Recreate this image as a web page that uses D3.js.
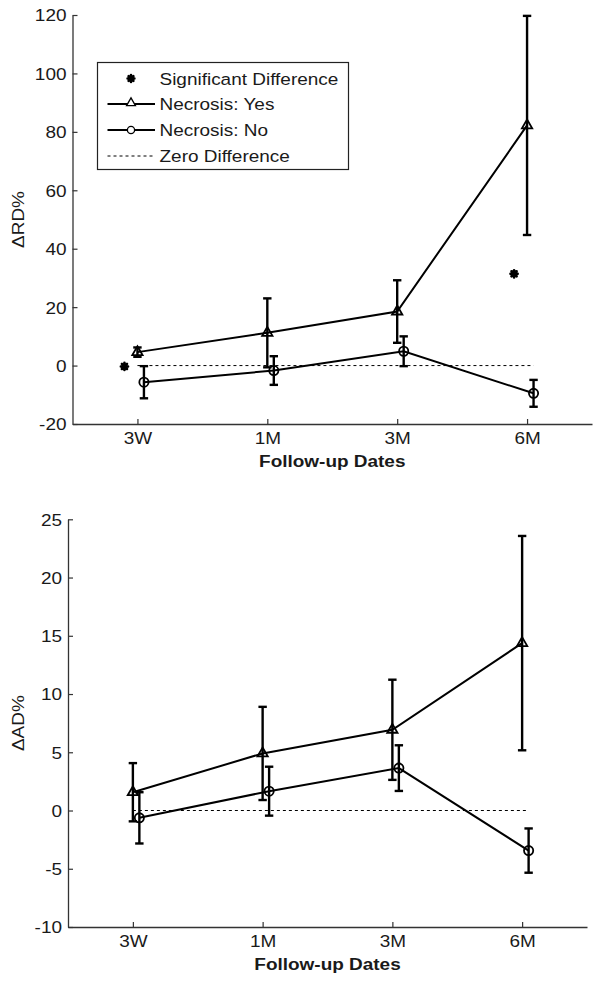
<!DOCTYPE html>
<html>
<head>
<meta charset="utf-8">
<script src="https://cdn.jsdelivr.net/npm/d3@7"></script>
<style>
  html, body { margin: 0; padding: 0; background: #fff; }
  svg { display: block; }
  text { font-family: "Liberation Sans", Arial, Helvetica, sans-serif; fill: #1a1a1a; }
</style>
</head>
<body>
<svg id="chart" width="601" height="984"></svg>
<script>
// ---------- data ----------
const categories = ["3W", "1M", "3M", "6M"];

// Top panel: ΔRD%
const rdYesMean = [4.6, 11.2, 18.5, 82.2];
const rdYesErr  = [1.6, 11.8, 10.7, 37.5];
const rdNoMean  = [-5.7, -1.7, 4.9, -9.5];
const rdNoErr   = [5.5, 4.9, 5.1, 4.6];
const rdSigIndex = [0, 3];
const rdSigValue = [-0.3, 31.4];
const rdTicks = [-20, 0, 20, 40, 60, 80, 100, 120];

// Bottom panel: ΔAD%
const adYesMean = [1.57, 4.9, 6.93, 14.37];
const adYesErr  = [2.5, 4.0, 4.3, 9.2];
const adNoMean  = [-0.63, 1.66, 3.64, -3.44];
const adNoErr   = [2.2, 2.1, 1.96, 1.9];
const adTicks = [-10, -5, 0, 5, 10, 15, 20, 25];

const legendLabels = ["Significant Difference", "Necrosis: Yes", "Necrosis: No", "Zero Difference"];
const xLabel = "Follow-up Dates";

// ---------- drawing ----------
const svg = d3.select("#chart");
const SX = 1.15;        // horizontal text stretch
const FS = 16.5;        // font size
const INK = "#000";
const AXIS = "#333";

function txt(g, x, y, s, anchor, weight, rotate) {
  return g.append("text")
    .attr("transform", `translate(${x},${y})` + (rotate ? ` rotate(${rotate})` : "") + ` scale(${SX},1)`)
    .attr("text-anchor", anchor || "start")
    .attr("font-size", FS)
    .attr("font-weight", weight || "normal")
    .text(s);
}

function asteriskPath(r) {
  const p = d3.path();
  for (let k = 0; k < 4; k++) {
    const a = k * Math.PI / 4;
    p.moveTo(-r * Math.cos(a), -r * Math.sin(a));
    p.lineTo(r * Math.cos(a), r * Math.sin(a));
  }
  return p.toString();
}

const triPath = d3.symbol(d3.symbolTriangle, 46)();

function panel(cfg) {
  const g = svg.append("g");
  const x = d3.scaleLinear().domain([0.5, 4.5]).range([cfg.left, cfg.right]);
  const y = d3.scaleLinear().domain([cfg.ticks[0], cfg.ticks[cfg.ticks.length - 1]]).range([cfg.bottom, cfg.top]);

  // axes
  const xAxis = d3.axisBottom(x).tickValues([1, 2, 3, 4])
    .tickFormat((d, i) => categories[i]).tickSizeInner(-5).tickSizeOuter(0).tickPadding(8);
  const yAxis = d3.axisLeft(y).tickValues(cfg.ticks).tickFormat(d => String(d))
    .tickSizeInner(-5).tickSizeOuter(0).tickPadding(6);

  const gx = g.append("g").attr("transform", `translate(0,${cfg.bottom})`).call(xAxis);
  const gy = g.append("g").attr("transform", `translate(${cfg.left},0)`).call(yAxis);
  [gx, gy].forEach(a => {
    a.select(".domain").attr("stroke", AXIS).attr("stroke-width", 1.3);
    a.selectAll(".tick line").attr("stroke", AXIS).attr("stroke-width", 1.2);
    a.selectAll("text").attr("font-size", FS).attr("fill", "#1a1a1a")
      .attr("font-family", '"Liberation Sans", Arial, sans-serif');
  });
  gx.selectAll(".tick text").attr("y", null).attr("dy", null)
    .attr("transform", `translate(0,${8 + 0.71 * FS}) scale(${SX},1)`);
  gy.selectAll(".tick text").attr("x", null).attr("dy", null)
    .attr("transform", `translate(-6,${0.355 * FS}) scale(${SX},1)`);

  // labels
  txt(g, (cfg.left + cfg.right) / 2, cfg.bottom + 43, xLabel, "middle", "bold");
  txt(g, 24, (cfg.top + cfg.bottom) / 2, cfg.yLabel, "middle", "normal", -90);

  // zero line
  g.append("line")
    .attr("x1", x(1)).attr("x2", x(4.05))
    .attr("y1", y(0)).attr("y2", y(0))
    .attr("stroke", INK).attr("stroke-width", 1).attr("stroke-dasharray", "3,3");

  const series = [
    { mean: cfg.yesMean, err: cfg.yesErr, off: 0, shape: "tri" },
    { mean: cfg.noMean, err: cfg.noErr, off: 0.05, shape: "circ" }
  ];
  const line = d3.line().x(d => x(d.i + 1 + d.off)).y(d => y(d.v));

  series.forEach(s => {
    const pts = s.mean.map((v, i) => ({ i, v, e: s.err[i], off: s.off }));
    g.append("path").datum(pts).attr("d", line)
      .attr("fill", "none").attr("stroke", INK).attr("stroke-width", 2);
    // error bars
    const eb = g.append("g").attr("stroke", INK).attr("stroke-width", 2.4).attr("fill", "none");
    pts.forEach(d => {
      const cx = x(d.i + 1 + d.off);
      eb.append("line").attr("x1", cx).attr("x2", cx).attr("y1", y(d.v - d.e)).attr("y2", y(d.v + d.e));
      [d.v - d.e, d.v + d.e].forEach(vv => {
        eb.append("line").attr("x1", cx - 4.2).attr("x2", cx + 4.2).attr("y1", y(vv)).attr("y2", y(vv));
      });
    });
    // markers
    pts.forEach(d => {
      const cx = x(d.i + 1 + d.off), cy = y(d.v);
      if (s.shape === "tri") {
        g.append("path").attr("d", triPath).attr("transform", `translate(${cx},${cy})`)
          .attr("fill", "none").attr("stroke", INK).attr("stroke-width", 1.8);
      } else {
        g.append("circle").attr("cx", cx).attr("cy", cy).attr("r", 4.6)
          .attr("fill", "none").attr("stroke", INK).attr("stroke-width", 1.8);
      }
    });
  });

  // significance markers
  if (cfg.sigIndex) {
    cfg.sigIndex.forEach((idx, k) => {
      g.append("path").attr("d", asteriskPath(3.6))
        .attr("transform", `translate(${x(idx + 1 - 0.1)},${y(cfg.sigValue[k])})`)
        .attr("stroke", INK).attr("stroke-width", 2.6).attr("stroke-linecap", "round").attr("fill", "none");
    });
  }

  // legend
  if (cfg.legend) {
    const L = g.append("g");
    const bx = 97.5, by = 62.5, bw = 251, bh = 107;
    L.append("rect").attr("x", bx).attr("y", by).attr("width", bw).attr("height", bh)
      .attr("fill", "#fff").attr("stroke", "#222").attr("stroke-width", 1.2);
    const rowsY = [78.5, 104, 130, 156];
    const lx1 = 107.5, lx2 = 155, mx = 131, tx = 159.5;
    // row 0: asterisk
    L.append("path").attr("d", asteriskPath(3.4)).attr("transform", `translate(${mx},${rowsY[0]})`)
      .attr("stroke", INK).attr("stroke-width", 2.6).attr("stroke-linecap", "round");
    // row 1: line + triangle
    L.append("line").attr("x1", lx1).attr("x2", lx2).attr("y1", rowsY[1]).attr("y2", rowsY[1])
      .attr("stroke", INK).attr("stroke-width", 2);
    L.append("path").attr("d", d3.symbol(d3.symbolTriangle, 34)()).attr("transform", `translate(${mx},${rowsY[1] - 1})`)
      .attr("fill", "#fff").attr("stroke", INK).attr("stroke-width", 1.3);
    // row 2: line + circle
    L.append("line").attr("x1", lx1).attr("x2", lx2).attr("y1", rowsY[2]).attr("y2", rowsY[2])
      .attr("stroke", INK).attr("stroke-width", 2);
    L.append("circle").attr("cx", mx).attr("cy", rowsY[2]).attr("r", 3.6)
      .attr("fill", "#fff").attr("stroke", INK).attr("stroke-width", 1.3);
    // row 3: dashed
    L.append("line").attr("x1", lx1).attr("x2", lx2).attr("y1", rowsY[3]).attr("y2", rowsY[3])
      .attr("stroke", INK).attr("stroke-width", 1).attr("stroke-dasharray", "3,3");
    legendLabels.forEach((s, i) => txt(L, tx, rowsY[i] + 6, s, "start"));
  }
}

panel({
  left: 72.5, right: 592, top: 15, bottom: 424,
  ticks: rdTicks, yLabel: "\u0394RD%",
  yesMean: rdYesMean, yesErr: rdYesErr, noMean: rdNoMean, noErr: rdNoErr,
  sigIndex: rdSigIndex, sigValue: rdSigValue, legend: true
});

panel({
  left: 68, right: 587, top: 519.3, bottom: 927,
  ticks: adTicks, yLabel: "\u0394AD%",
  yesMean: adYesMean, yesErr: adYesErr, noMean: adNoMean, noErr: adNoErr,
  legend: false
});
</script>
</body>
</html>
